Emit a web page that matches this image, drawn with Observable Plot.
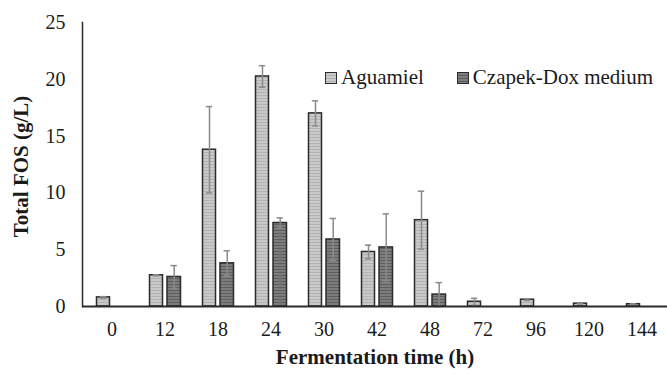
<!DOCTYPE html>
<html>
<head>
<meta charset="utf-8">
<script src="https://cdn.jsdelivr.net/npm/d3@7"></script>
<script src="https://cdn.jsdelivr.net/npm/@observablehq/plot@0.6"></script>
<style>
  html, body { margin: 0; padding: 0; background: #fff; }
  #wrap { position: relative; width: 667px; height: 378px; overflow: hidden; font-family: "Liberation Serif", "DejaVu Serif", serif; }
  #wrap svg [aria-label="x-axis label"] text, #wrap svg [aria-label="x-axis label"] { font-weight: bold; font-size: 21px; }
  .legend { position: absolute; top: 65px; left: 325px; display: flex; align-items: center; font-family: "Liberation Serif", "DejaVu Serif", serif; font-size: 21px; color: #1a1a1a; white-space: nowrap; }
  .sw { display: inline-block; width: 10px; height: 10px; border: 1.2px solid #2b2b2b; margin-right: 4px; }
  .sw.a { background: repeating-linear-gradient(to bottom, #c9c9c9 0 2px, #b0b0b0 2px 3px); }
  .sw.c { background: repeating-linear-gradient(to bottom, #7d7d7d 0 2px, #5c5c5c 2px 3px); }
  .item { display: flex; align-items: center; }
</style>
</head>
<body>
<div id="wrap"></div>
<script>
// Data
const times = ["0", "12", "18", "24", "30", "42", "48", "72", "96", "120", "144"];
const seriesNames = ["Aguamiel", "Czapek-Dox medium"];
const aguamiel    = [0.8, 2.75, 13.8, 20.25, 17.0, 4.8, 7.6, 0.42, 0.6, 0.25, 0.2];
const aguamielErr = [0.07, 0.05, 3.8, 0.95, 1.1, 0.6, 2.55, 0.3, 0.07, 0.03, 0.03];
const czapek      = [null, 2.6, 3.8, 7.35, 5.9, 5.2, 1.05, null, null, null, null];
const czapekErr   = [null, 1.0, 1.1, 0.45, 1.85, 2.95, 1.05, null, null, null, null];
const yTicks = [0, 5, 10, 15, 20, 25];
const xTitle = "Fermentation time (h)";
const yTitle = "Total FOS (g/L)";

const rowsA = times.map((t, i) => ({time: t, v: aguamiel[i], e: aguamielErr[i]})).filter(d => d.v != null);
const rowsC = times.map((t, i) => ({time: t, v: czapek[i], e: czapekErr[i]})).filter(d => d.v != null);

const errStroke = "#8a8a8a";
const outline = "#2b2b2b";

const chart = Plot.plot({
  width: 667,
  height: 378,
  marginLeft: 82,
  marginRight: 0,
  marginTop: 22,
  marginBottom: 72,
  style: { fontFamily: "'Liberation Serif', 'DejaVu Serif', serif", fontSize: "20px", color: "#1a1a1a", background: "#fff" },
  x: { domain: times, range: [82, 671], padding: 0, tickSize: 0, tickPadding: 15,
       label: xTitle, labelAnchor: "center", labelOffset: 57 },
  y: { domain: [0, 25], ticks: yTicks, tickSize: 0, tickPadding: 17, label: null },
  marks: [
    Plot.barY(rowsA, { x: "time", y: "v", fill: "url(#patAgua)", stroke: outline, strokeWidth: 1.5, insetLeft: 11.5, insetRight: 28.5 }),
    Plot.barY(rowsC, { x: "time", y: "v", fill: "url(#patCz)", stroke: outline, strokeWidth: 1.5, insetLeft: 29, insetRight: 10.5 }),
    Plot.ruleX(rowsA, { x: "time", y1: d => d.v - d.e, y2: d => d.v + d.e, dx: -8.5, stroke: errStroke, strokeWidth: 1.5 }),
    Plot.tickY(rowsA, { x: "time", y: d => d.v + d.e, insetLeft: 14.8, insetRight: 31.8, stroke: errStroke, strokeWidth: 1.5 }),
    Plot.tickY(rowsA, { x: "time", y: d => d.v - d.e, insetLeft: 14.8, insetRight: 31.8, stroke: errStroke, strokeWidth: 1.5 }),
    Plot.ruleX(rowsC, { x: "time", y1: d => d.v - d.e, y2: d => d.v + d.e, dx: 9.2, stroke: errStroke, strokeWidth: 1.5 }),
    Plot.tickY(rowsC, { x: "time", y: d => d.v + d.e, insetLeft: 32.5, insetRight: 14.1, stroke: errStroke, strokeWidth: 1.5 }),
    Plot.tickY(rowsC, { x: "time", y: d => d.v - d.e, insetLeft: 32.5, insetRight: 14.1, stroke: errStroke, strokeWidth: 1.5 }),
    Plot.frame({ anchor: "left", stroke: "#2b2b2b", strokeWidth: 1.5 }),
    Plot.ruleY([0], { stroke: "#2b2b2b", strokeWidth: 2 }),
    Plot.text([yTitle], { text: d => d, frameAnchor: "left", textAnchor: "middle", rotate: -90, dx: -61, dy: 2, fontWeight: "bold", fontSize: 21, fill: "#1a1a1a" })
  ]
});

// Stripe patterns for the bar fills
const ns = "http://www.w3.org/2000/svg";
const defs = document.createElementNS(ns, "defs");
function addPattern(id, base, stripe) {
  const p = document.createElementNS(ns, "pattern");
  p.setAttribute("id", id);
  p.setAttribute("patternUnits", "userSpaceOnUse");
  p.setAttribute("width", 4);
  p.setAttribute("height", 3);
  const r = document.createElementNS(ns, "rect");
  r.setAttribute("width", 4); r.setAttribute("height", 3); r.setAttribute("fill", base);
  const l = document.createElementNS(ns, "rect");
  l.setAttribute("y", 2); l.setAttribute("width", 4); l.setAttribute("height", 1); l.setAttribute("fill", stripe);
  p.appendChild(r); p.appendChild(l);
  defs.appendChild(p);
}
addPattern("patAgua", "#c9c9c9", "#b2b2b2");
addPattern("patCz", "#7d7d7d", "#5e5e5e");
chart.insertBefore(defs, chart.firstChild);

const wrap = document.getElementById("wrap");
wrap.appendChild(chart);

// Legend
const legend = document.createElement("div");
legend.className = "legend";
const cls = ["a", "c"];
seriesNames.forEach((name, i) => {
  const item = document.createElement("span");
  item.className = "item";
  item.style.marginRight = i === 0 ? "33px" : "0";
  const sw = document.createElement("span");
  sw.className = "sw " + cls[i];
  const tx = document.createElement("span");
  tx.textContent = name;
  item.appendChild(sw); item.appendChild(tx);
  legend.appendChild(item);
});
wrap.appendChild(legend);
</script>
</body>
</html>
